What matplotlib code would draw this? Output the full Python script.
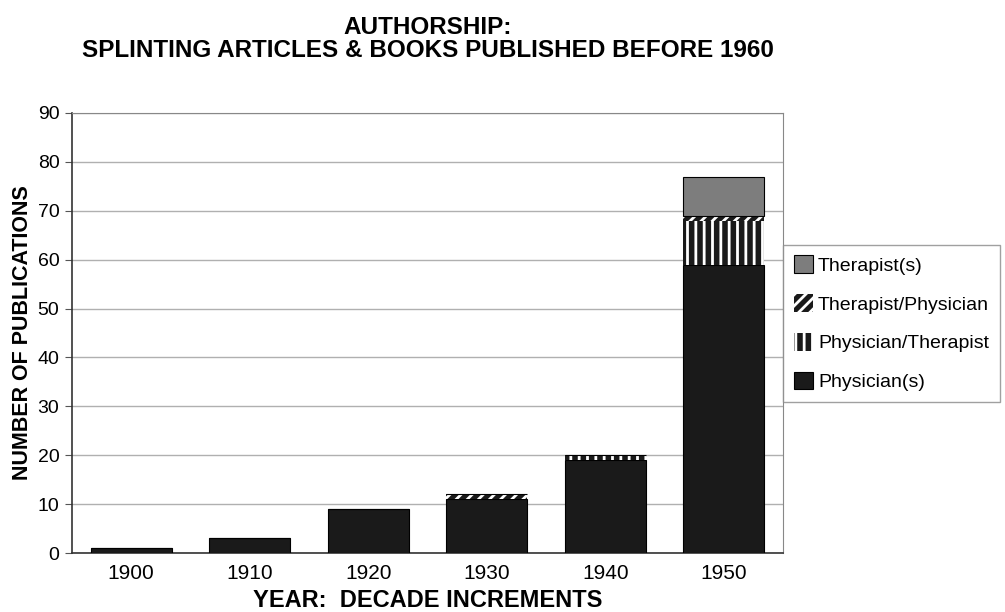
import matplotlib.pyplot as plt
import numpy as np

# publications per decade, split by authorship
decades = ['1900', '1910', '1920', '1930', '1940', '1950']
physicians = [1, 3, 9, 11, 19, 59]
physician_therapist = [0, 0, 0, 0, 1, 9]
therapist_physician = [0, 0, 0, 1, 0, 1]
therapists = [0, 0, 0, 0, 0, 8]

plt.rcParams['font.family'] = ['Liberation Sans', 'DejaVu Sans']
plt.rcParams['hatch.linewidth'] = 2.0

fig = plt.figure(figsize=(10.05, 6.12), dpi=100, facecolor='white')
ax = fig.add_axes([0.0716, 0.0964, 0.7075, 0.719])

x = np.arange(len(decades))
w = 0.68
bottom = np.zeros(len(decades))

ax.bar(x, physicians, w, bottom=bottom, color='#1a1a1a', edgecolor='black',
       linewidth=0.8, label='Physician(s)', zorder=3)
bottom += physicians
ax.bar(x, physician_therapist, w, bottom=bottom, color='#1a1a1a', edgecolor='white',
       hatch='||', linewidth=0, label='Physician/Therapist', zorder=3)
bottom += physician_therapist
ax.bar(x, therapist_physician, w, bottom=bottom, color='#1a1a1a', edgecolor='white',
       hatch='///', linewidth=0, label='Therapist/Physician', zorder=3)
bottom += therapist_physician
ax.bar(x, therapists, w, bottom=bottom, color='#7d7d7d', edgecolor='black',
       linewidth=0.8, label='Therapist(s)', zorder=3)

ax.set_xlim(-0.5, len(decades) - 0.5)
ax.set_ylim(0, 90)
ax.set_yticks(range(0, 91, 10))
ax.set_xticks(x)
ax.set_xticklabels(decades, fontsize=15)
ax.tick_params(axis='x', length=0, pad=8)
ax.tick_params(axis='y', labelsize=14, length=5, color='#555555', pad=4)
ax.grid(axis='y', color='#b0b0b0', linewidth=1, zorder=0)

for side in ['top', 'right']:
    ax.spines[side].set_color('#888888')
for side in ['left', 'bottom']:
    ax.spines[side].set_color('#333333')
    ax.spines[side].set_linewidth(1.2)

ax.set_ylabel('NUMBER OF PUBLICATIONS', fontsize=15.5, fontweight='bold', labelpad=3)
ax.set_xlabel('YEAR:  DECADE INCREMENTS', fontsize=17, fontweight='bold', labelpad=4)
ax.set_title('AUTHORSHIP:\nSPLINTING ARTICLES & BOOKS PUBLISHED BEFORE 1960',
             fontsize=17.5, fontweight='bold', pad=40, linespacing=1.0)

handles, labels = ax.get_legend_handles_labels()
leg = fig.legend(handles[::-1], labels[::-1], loc='upper left',
                 bbox_to_anchor=(0.779, 0.6), fontsize=14, frameon=True,
                 fancybox=False, edgecolor='#888888', handlelength=1.0,
                 handleheight=1.0, handletextpad=0.25, labelspacing=1.0,
                 borderpad=0.55, borderaxespad=0)
leg.get_frame().set_linewidth(1.0)

fig.savefig('out.png', dpi=100)
